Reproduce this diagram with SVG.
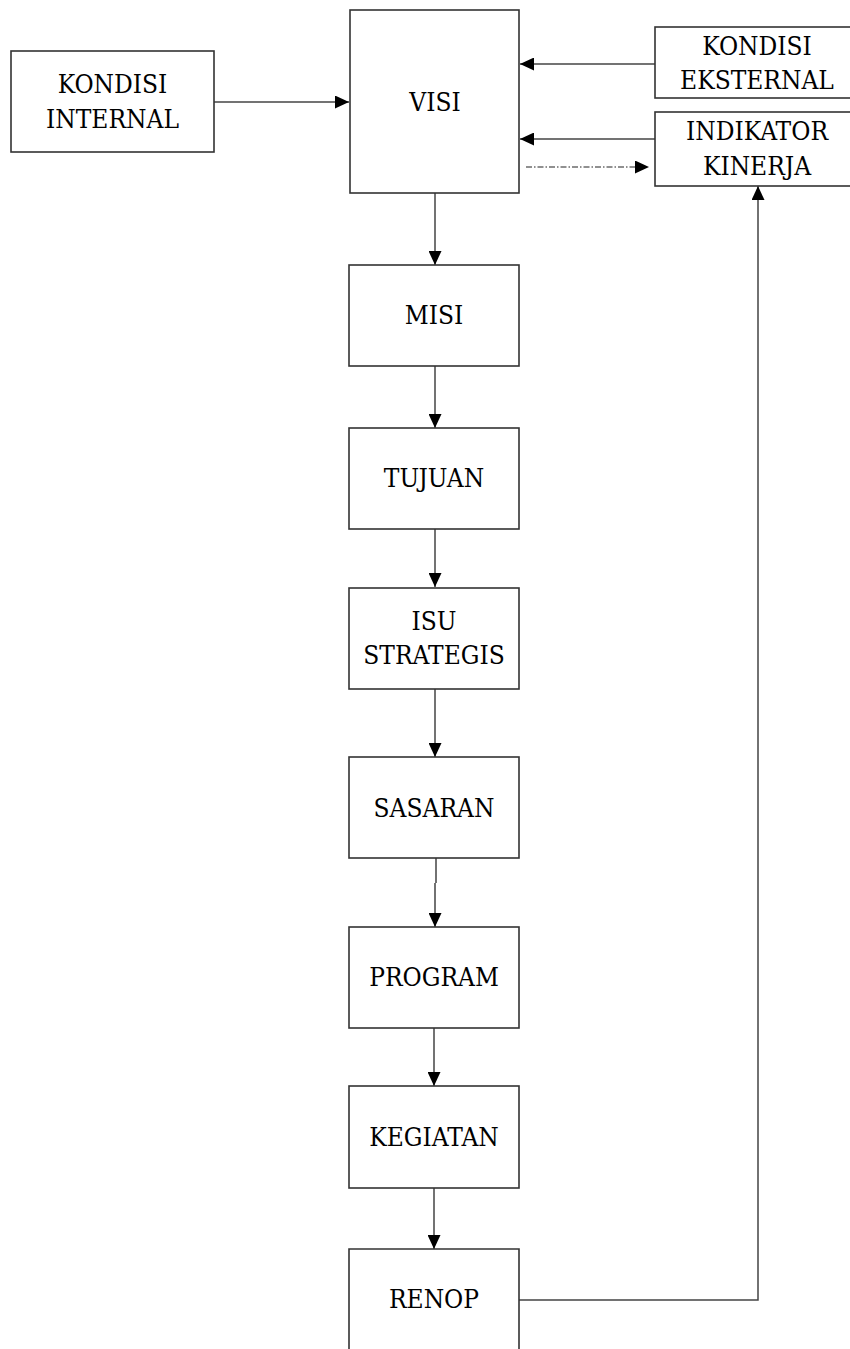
<svg xmlns="http://www.w3.org/2000/svg" width="850" height="1349" viewBox="0 0 850 1349">
<style>
.box{fill:#fff;stroke:#333;stroke-width:1.6}
.t{font-family:"DejaVu Serif Condensed","DejaVu Serif","Liberation Serif",serif;font-stretch:condensed;font-size:26px;fill:#000;text-anchor:middle}
.c{fill:none;stroke:#444;stroke-width:1.5}
.d{fill:none;stroke:#222;stroke-width:1.2;stroke-dasharray:6 2 1.5 2}
</style>
<defs>
<marker id="ah" markerUnits="userSpaceOnUse" markerWidth="15" markerHeight="13" refX="14" refY="6.5" orient="auto">
<path d="M0,0 L14,6.5 L0,13 Z" fill="#000"/>
</marker>
</defs>
<rect width="850" height="1349" fill="#fff"/>
<g id="connectors">
<line class="c" x1="214" y1="102" x2="349" y2="102" marker-end="url(#ah)"/>
<line class="c" x1="655" y1="64" x2="520" y2="64" marker-end="url(#ah)"/>
<line class="c" x1="655" y1="139" x2="520" y2="139" marker-end="url(#ah)"/>
<line class="d" x1="526" y1="167" x2="649" y2="167" marker-end="url(#ah)"/>
<line class="c" x1="435" y1="193" x2="435" y2="265" marker-end="url(#ah)"/>
<line class="c" x1="435" y1="366" x2="435" y2="428" marker-end="url(#ah)"/>
<line class="c" x1="435" y1="529" x2="435" y2="587" marker-end="url(#ah)"/>
<line class="c" x1="435" y1="689" x2="435" y2="757" marker-end="url(#ah)"/>
<path class="c" d="M436,858 V883 M435,883 V927" marker-end="url(#ah)"/>
<line class="c" x1="434" y1="1028" x2="434" y2="1086" marker-end="url(#ah)"/>
<line class="c" x1="434" y1="1188" x2="434" y2="1249" marker-end="url(#ah)"/>
<path class="c" d="M519,1300 H758 V186" marker-end="url(#ah)"/>
</g>
<g id="kondisi-internal"><rect class="box" x="11" y="51" width="203" height="101"/><text class="t" x="112.5" y="93">KONDISI</text><text class="t" x="112.5" y="128">INTERNAL</text></g>
<g id="visi"><rect class="box" x="350" y="10" width="169" height="183"/><text class="t" x="435" y="111">VISI</text></g>
<g id="kondisi-eksternal"><rect class="box" x="655" y="27" width="205" height="71"/><text class="t" x="757" y="55">KONDISI</text><text class="t" x="757" y="89">EKSTERNAL</text></g>
<g id="indikator-kinerja"><rect class="box" x="655" y="112" width="205" height="74"/><text class="t" x="757" y="140">INDIKATOR</text><text class="t" x="757" y="175">KINERJA</text></g>
<g id="misi"><rect class="box" x="349" y="265" width="170" height="101"/><text class="t" x="434" y="324">MISI</text></g>
<g id="tujuan"><rect class="box" x="349" y="428" width="170" height="101"/><text class="t" x="434" y="487">TUJUAN</text></g>
<g id="isu-strategis"><rect class="box" x="349" y="588" width="170" height="101"/><text class="t" x="434" y="630">ISU</text><text class="t" x="434" y="664">STRATEGIS</text></g>
<g id="sasaran"><rect class="box" x="349" y="757" width="170" height="101"/><text class="t" x="434" y="817">SASARAN</text></g>
<g id="program"><rect class="box" x="349" y="927" width="170" height="101"/><text class="t" x="434" y="986">PROGRAM</text></g>
<g id="kegiatan"><rect class="box" x="349" y="1086" width="170" height="102"/><text class="t" x="434" y="1146">KEGIATAN</text></g>
<g id="renop"><path class="box" style="fill:none" d="M349,1349 V1249 H519 V1349"/><text class="t" x="434" y="1308">RENOP</text></g>
</svg>
